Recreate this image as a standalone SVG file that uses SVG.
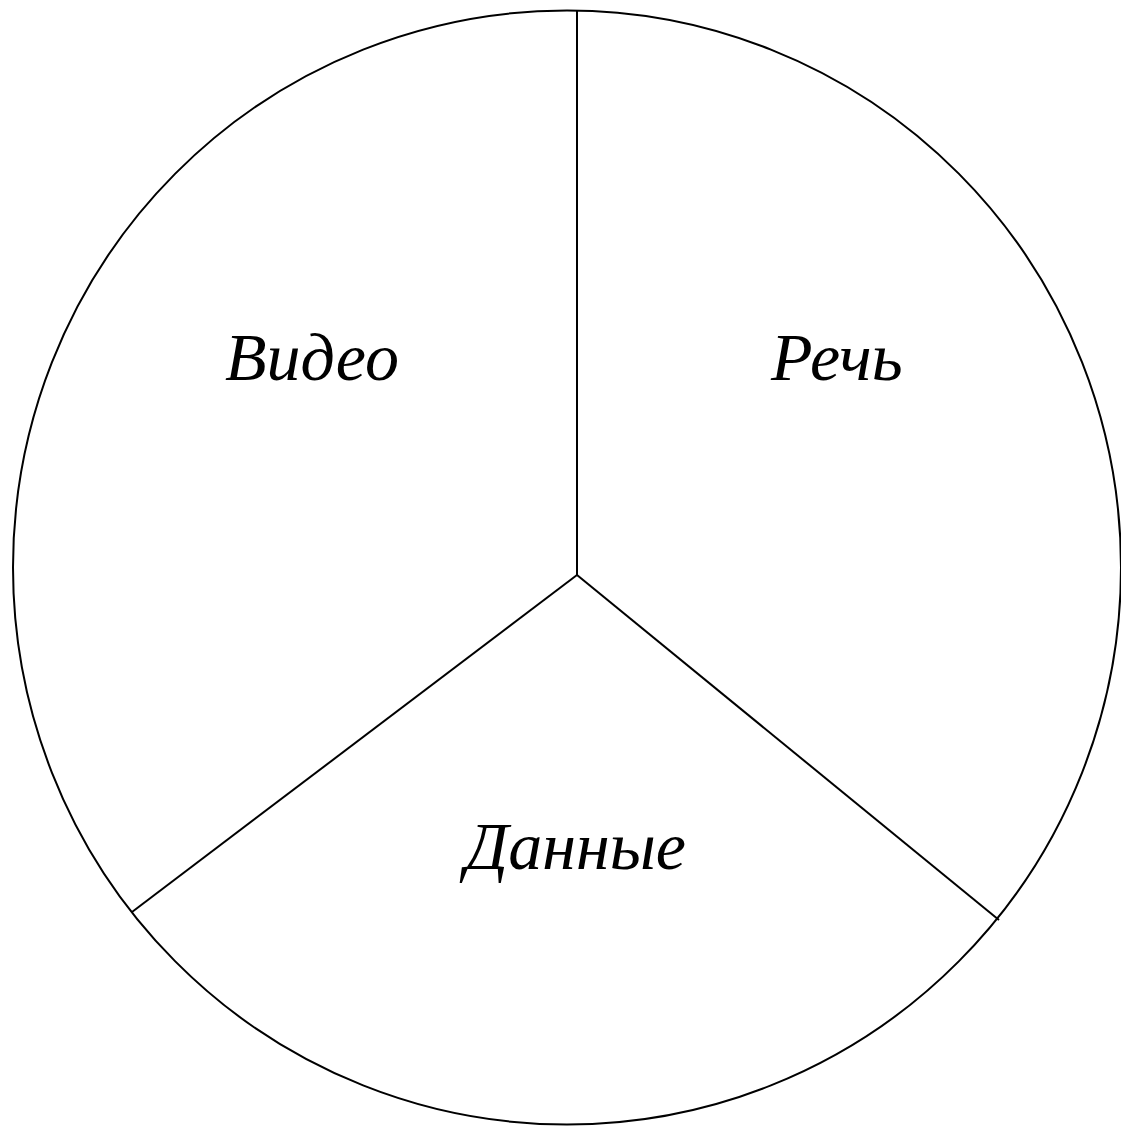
<svg xmlns="http://www.w3.org/2000/svg" width="1121" height="1126" viewBox="0 0 1121 1126">
<style>
.o{fill:none;stroke:#000;stroke-width:2}
.t{font-family:"Liberation Serif","Times New Roman",serif;font-style:italic;font-size:68px;fill:#000}
</style>
<rect width="1121" height="1126" fill="#fff"/>
<g id="circle"><ellipse class="o" cx="567" cy="567.5" rx="554" ry="557"/></g>
<g id="connectors">
<line class="o" x1="577" y1="575" x2="577" y2="11"/>
<line class="o" x1="577" y1="575" x2="132" y2="912"/>
<line class="o" x1="577" y1="575" x2="999" y2="920"/>
</g>
<g id="video"><text class="t" x="225" y="380">Видео</text></g>
<g id="speech"><text class="t" x="771" y="380">Речь</text></g>
<g id="data"><text class="t" x="465" y="869">Данные</text></g>
</svg>
